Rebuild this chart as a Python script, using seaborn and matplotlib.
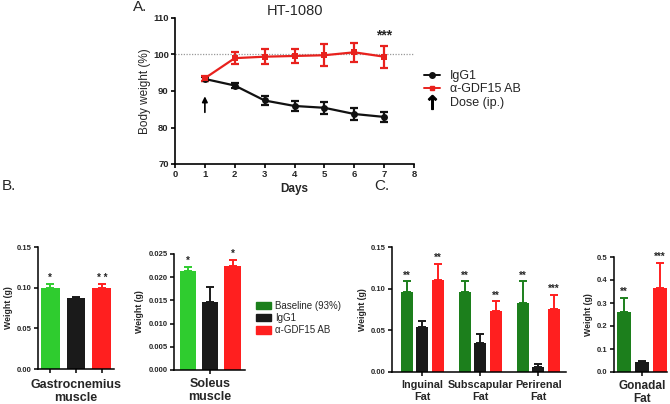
import numpy as np
import pandas as pd
import matplotlib
matplotlib.use("Agg")
import matplotlib.pyplot as plt
import seaborn as sns
from matplotlib.patches import Patch
from matplotlib.lines import Line2D
from matplotlib.container import BarContainer

# ---------------- data ----------------
days = [1, 2, 3, 4, 5, 6, 7]
igg1_bw = [93.3, 91.5, 87.4, 85.9, 85.4, 83.7, 82.9]
igg1_bw_err = [0.6, 0.8, 1.1, 1.3, 1.6, 1.6, 1.3]
agdf_bw = [93.5, 99.0, 99.4, 99.6, 99.8, 100.6, 99.4]
agdf_bw_err = [0.7, 1.6, 2.1, 2.0, 3.0, 2.6, 3.0]
line_series = ["IgG1", "α-GDF15 AB"]

groups = ["Baseline (93%)", "IgG1", "α-GDF15 AB"]

gastro = [0.099, 0.087, 0.099]
gastro_err = [0.006, 0.001, 0.005]
gastro_sig = ["*", "", "* *"]

soleus = [0.0213, 0.0146, 0.0224]
soleus_err = [0.0009, 0.0032, 0.0013]
soleus_sig = ["*", "", "*"]

fat_tissues = ["Inguinal\nFat", "Subscapular\nFat", "Perirenal\nFat"]
fat_baseline = [0.096, 0.096, 0.083]
fat_baseline_err = [0.013, 0.013, 0.026]
fat_igg1 = [0.054, 0.035, 0.006]
fat_igg1_err = [0.007, 0.011, 0.004]
fat_agdf = [0.111, 0.073, 0.076]
fat_agdf_err = [0.019, 0.012, 0.017]
fat_sig_baseline = ["**", "**", "**"]
fat_sig_igg1 = ["", "", ""]
fat_sig_agdf = ["**", "**", "***"]

gonadal = [0.262, 0.043, 0.365]
gonadal_err = [0.060, 0.006, 0.108]
gonadal_sig = ["**", "", "***"]

# ---------------- style ----------------
sns.set_style("ticks")
plt.rcParams["font.family"] = ["Liberation Sans", "DejaVu Sans"]

RED = "#e8211d"
BLACK = "#111111"
GREEN_B = "#2fcc2f"
GREEN_C = "#1c7f1c"
BAR_RED = "#ff1f1f"
BAR_BLACK = "#1a1a1a"

W, H = 670, 404
fig = plt.figure(figsize=(W / 100, H / 100), dpi=100)


def px_axes(x0, x1, y0, y1):
    return fig.add_axes([x0 / W, 1 - y1 / H, (x1 - x0) / W, (y1 - y0) / H])


def style_axes(ax, lw=1.1, fs=6):
    sns.despine(ax=ax)
    for s in ("left", "bottom"):
        ax.spines[s].set_linewidth(lw)
        ax.spines[s].set_color("black")
    ax.tick_params(width=lw, length=3, labelsize=fs, pad=1.5, color="black")
    for t in ax.get_yticklabels() + ax.get_xticklabels():
        t.set_fontweight("bold")


# ---------------- panel A ----------------
axA = px_axes(175, 414, 18, 164)
dfA = pd.DataFrame({
    "day": days * 2,
    "bw": igg1_bw + agdf_bw,
    "err": igg1_bw_err + agdf_bw_err,
    "series": [line_series[0]] * len(days) + [line_series[1]] * len(days),
})
pal_line = {line_series[0]: BLACK, line_series[1]: RED}
axA.axhline(100, color="#999999", ls=(0, (1, 1.2)), lw=0.9, zorder=0)
for name in line_series:
    sub = dfA[dfA.series == name]
    axA.errorbar(sub["day"], sub["bw"], yerr=sub["err"], fmt="none",
                 ecolor=pal_line[name], elinewidth=1.6, capsize=3, capthick=1.6, zorder=3)
sns.lineplot(data=dfA, x="day", y="bw", hue="series", style="series",
             markers={line_series[0]: "o", line_series[1]: "s"}, dashes=False,
             palette=pal_line, markersize=5, linewidth=1.6, markeredgewidth=0,
             legend=False, ax=axA, zorder=4)
axA.set_xlim(0, 8)
axA.set_ylim(70, 110)
axA.set_xticks(range(0, 9))
axA.set_yticks([70, 80, 90, 100, 110])
axA.set_xlabel("Days", fontsize=8.5, fontweight="bold", labelpad=3)
axA.set_ylabel("Body weight (%)", fontsize=8.5, labelpad=1)
axA.set_title("HT-1080", fontsize=10.5, pad=1)
style_axes(axA, lw=1.2, fs=6.8)
axA.text(days[-1], agdf_bw[-1] + agdf_bw_err[-1] + 1.0, "***", ha="center",
         va="bottom", fontsize=10, fontweight="bold")
axA.annotate("", xy=(days[0], 89.3), xytext=(days[0], 83.4),
             arrowprops=dict(arrowstyle="-|>", color="black", lw=1.2,
                             mutation_scale=8))
leg_handles = [
    Line2D([], [], color=BLACK, marker="o", markersize=4, lw=1.4),
    Line2D([], [], color=RED, marker="s", markersize=3.5, lw=1.4),
    Line2D([], [], color="black", marker=r"$\uparrow$", markersize=10, ls="none"),
]
fig.legend(leg_handles, ["IgG1", "α-GDF15 AB", "Dose (ip.)"], loc="upper left",
           bbox_to_anchor=(424 / W, 1 - 70 / H), frameon=False, fontsize=9,
           handlelength=1.3, handletextpad=0.8, labelspacing=0.12,
           borderpad=0, borderaxespad=0)
fig.text(133 / W, 1 - 7 / H, "A.", fontsize=11, va="center")


# ---------------- bar helper ----------------
def bar_panel(ax, cats, values, errs, sigs, palette, gap, sig_off, fs_sig=7):
    rows = []
    for gi, g in enumerate(groups):
        for ci, c in enumerate(cats):
            rows.append({"tissue": c, "group": g, "value": values[gi][ci],
                         "err": errs[gi][ci], "sig": sigs[gi][ci]})
    df = pd.DataFrame(rows)
    sns.barplot(data=df, x="tissue", y="value", hue="group", order=cats,
                hue_order=groups, palette=palette, gap=gap, errorbar=None,
                saturation=1, legend=False, ax=ax, linewidth=0)
    conts = [c for c in ax.containers if isinstance(c, BarContainer)]
    centers = []
    for gi, cont in enumerate(conts):
        g = groups[gi]
        for ci, bar in enumerate(cont):
            r = df[(df.group == g) & (df.tissue == cats[ci])].iloc[0]
            xc = bar.get_x() + bar.get_width() / 2
            h = bar.get_height()
            centers.append(xc)
            ax.errorbar([xc], [h], yerr=[[0], [r["err"]]], fmt="none",
                        ecolor=palette[g], elinewidth=1.4, capsize=2.6,
                        capthick=1.4, zorder=3)
            if r["sig"]:
                ax.text(xc, h + r["err"] + sig_off, r["sig"], ha="center",
                        va="bottom", fontsize=fs_sig, fontweight="bold")
    return sorted(centers)


pal_B = {groups[0]: GREEN_B, groups[1]: BAR_BLACK, groups[2]: BAR_RED}
pal_C = {groups[0]: GREEN_C, groups[1]: BAR_BLACK, groups[2]: BAR_RED}

XL = dict(fontsize=9, fontweight="bold", linespacing=1.12)

# Gastrocnemius
axG = px_axes(38, 114, 247, 369)
cG = bar_panel(axG, ["Gastrocnemius\nmuscle"], [[v] for v in gastro],
               [[e] for e in gastro_err], [[s] for s in gastro_sig], pal_B,
               0.27, 0.0015)
axG.set_xlim(-0.39, 0.39)
axG.set_ylim(0, 0.15)
axG.set_yticks([0, 0.05, 0.10, 0.15])
axG.set_yticklabels(["0.00", "0.05", "0.10", "0.15"])
axG.set_xticks(cG)
axG.set_xticklabels([])
axG.set_xlabel("Gastrocnemius\nmuscle", labelpad=3, **XL)
axG.set_ylabel("Weight (g)", fontsize=6.3, fontweight="bold", labelpad=3)
style_axes(axG, fs=5.5)

# Soleus
axS = px_axes(174, 245, 254, 370)
bar_panel(axS, ["Soleus\nmuscle"], [[v] for v in soleus],
          [[e] for e in soleus_err], [[s] for s in soleus_sig], pal_B, 0.28, 0.0002)
axS.set_xlim(-0.43, 0.415)
axS.set_ylim(0, 0.025)
axS.set_yticks([0, 0.005, 0.010, 0.015, 0.020, 0.025])
axS.set_yticklabels(["0.000", "0.005", "0.010", "0.015", "0.020", "0.025"])
axS.set_xticks([0])
axS.set_xticklabels(["Soleus\nmuscle"], **XL)
axS.set_xlabel("")
axS.set_ylabel("Weight (g)", fontsize=6.3, fontweight="bold", labelpad=3)
style_axes(axS, fs=5.5)
axS.tick_params(axis="x", labelsize=9, pad=3)

pal_leg = {groups[0]: GREEN_C, groups[1]: BAR_BLACK, groups[2]: BAR_RED}
fig.legend([Patch(color=pal_leg[g]) for g in groups], groups,
           loc="upper left", bbox_to_anchor=(256 / W, 1 - 301 / H), frameon=False,
           fontsize=7, handlelength=1.5, handleheight=0.8, handletextpad=0.5,
           labelspacing=0.22, borderpad=0, borderaxespad=0)
fig.text(2 / W, 1 - 186 / H, "B.", fontsize=11, va="center")

# Fat
axF = px_axes(392, 566, 247, 372)
bar_panel(axF, fat_tissues, [fat_baseline, fat_igg1, fat_agdf],
          [fat_baseline_err, fat_igg1_err, fat_agdf_err],
          [fat_sig_baseline, fat_sig_igg1, fat_sig_agdf], pal_C, 0.22, 0.0008)
axF.set_xlim(-0.52, 2.48)
axF.set_ylim(0, 0.15)
axF.set_yticks([0, 0.05, 0.10, 0.15])
axF.set_yticklabels(["0.00", "0.05", "0.10", "0.15"])
axF.set_xticklabels(fat_tissues, fontsize=8, fontweight="bold", linespacing=1.15)
axF.set_xlabel("")
axF.set_ylabel("Weight (g)", fontsize=6.3, fontweight="bold", labelpad=3)
style_axes(axF, fs=5.5)
axF.tick_params(axis="x", labelsize=7.8, pad=3)

# Gonadal
axO = px_axes(614, 667, 257, 372)
bar_panel(axO, ["Gonadal\nFat"], [[v] for v in gonadal],
          [[e] for e in gonadal_err], [[s] for s in gonadal_sig], pal_C, 0.22, 0.004)
axO.set_xlim(-0.415, 0.37)
axO.set_ylim(0, 0.5)
axO.set_yticks([0, 0.1, 0.2, 0.3, 0.4, 0.5])
axO.set_yticklabels(["0.0", "0.1", "0.2", "0.3", "0.4", "0.5"])
axO.set_xticks([0])
axO.set_xticklabels(["Gonadal\nFat"], fontsize=8.5, fontweight="bold", linespacing=1.12)
axO.set_xlabel("")
axO.set_ylabel("Weight (g)", fontsize=6.3, fontweight="bold", labelpad=3)
style_axes(axO, fs=5.5)
axO.tick_params(axis="x", labelsize=8.5, pad=3)
fig.text(374 / W, 1 - 186 / H, "C.", fontsize=11, va="center")

fig.savefig("out.png", dpi=100)
